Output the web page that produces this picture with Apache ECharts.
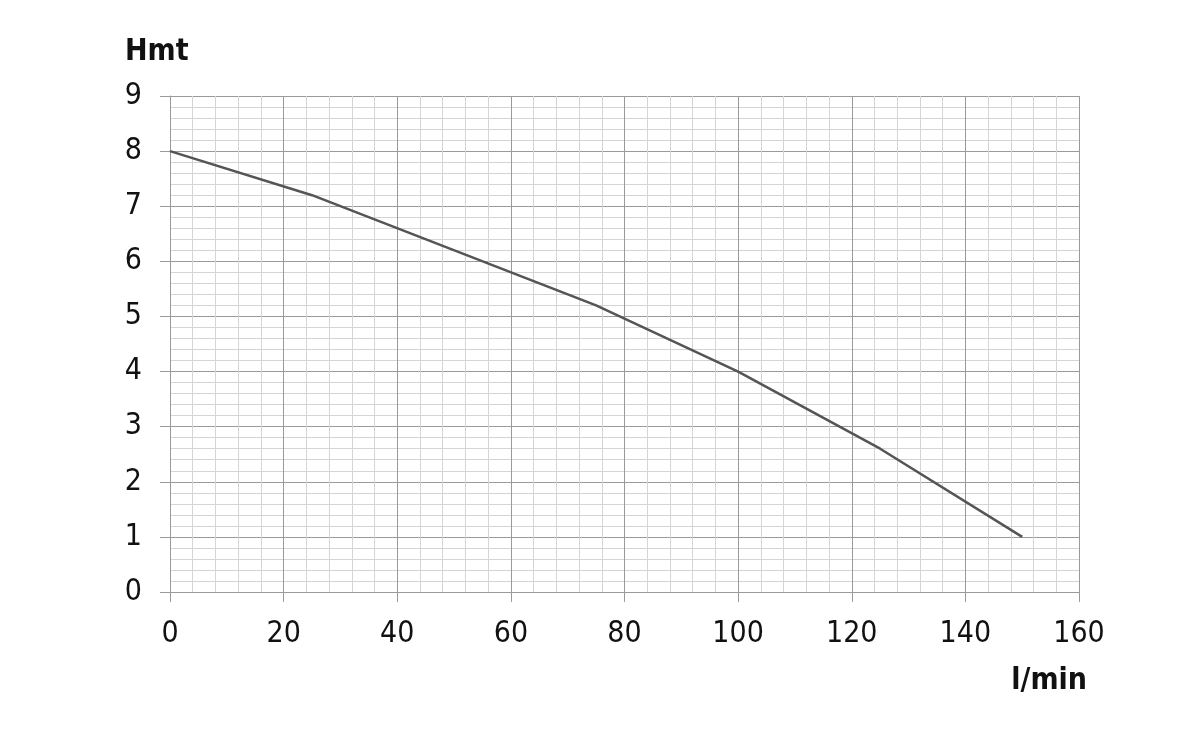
<!DOCTYPE html>
<html><head><meta charset="utf-8">
<script src="https://cdn.jsdelivr.net/npm/echarts@6/dist/echarts.min.js"></script>
<style>html,body{margin:0;padding:0;background:#fff}#c{width:1200px;height:729px}</style>
</head><body><div id="c"></div>
<script>
const flow = [0, 25, 75, 100, 125, 150];
const head = [8, 7.2, 5.2, 4.0, 2.6, 1.0];
const xTicks = [0, 20, 40, 60, 80, 100, 120, 140, 160];
const yTicks = [0, 1, 2, 3, 4, 5, 6, 7, 8, 9];
const yName = 'Hmt';
const xName = 'l/min';

const chart = echarts.init(document.getElementById('c'));
const font = 'DejaVu Sans Condensed';
chart.setOption({
  animation: false,
  grid: {left: 170, right: 121, top: 96, bottom: 137},
  xAxis: {
    type: 'value', min: xTicks[0], max: xTicks[xTicks.length-1], interval: 20,
    axisLine: {show: true, lineStyle: {color: '#9a9a9a', width: 1}},
    axisTick: {show: true, length: 10, lineStyle: {color: '#9a9a9a'}},
    minorTick: {show: false, splitNumber: 5},
    axisLabel: {margin: 27, fontSize: 30, color: '#111', fontFamily: font},
    splitLine: {show: true, lineStyle: {color: '#9a9a9a', width: 1}},
    minorSplitLine: {show: true, lineStyle: {color: '#d4d4d4', width: 1}}
  },
  yAxis: {
    type: 'value', min: yTicks[0], max: yTicks[yTicks.length-1], interval: 1,
    axisLine: {show: true, lineStyle: {color: '#9a9a9a', width: 1}},
    axisTick: {show: true, length: 10, lineStyle: {color: '#9a9a9a'}},
    minorTick: {show: false, splitNumber: 5},
    axisLabel: {margin: 28, fontSize: 30, color: '#111', fontFamily: font},
    splitLine: {show: true, lineStyle: {color: '#9a9a9a', width: 1}},
    minorSplitLine: {show: true, lineStyle: {color: '#d4d4d4', width: 1}}
  },
  series: [{
    type: 'line', data: flow.map((f, i) => [f, head[i]]),
    symbol: 'none', lineStyle: {color: '#555555', width: 2.5}
  }],
  graphic: [
    {type: 'text', left: 125, top: 37, style: {text: yName, font: 'bold 30px "DejaVu Sans Condensed"', fill: '#111'}},
    {type: 'text', right: 113, top: 666, style: {text: xName, font: 'bold 30px "DejaVu Sans Condensed"', fill: '#111'}}
  ]
});
</script></body></html>
